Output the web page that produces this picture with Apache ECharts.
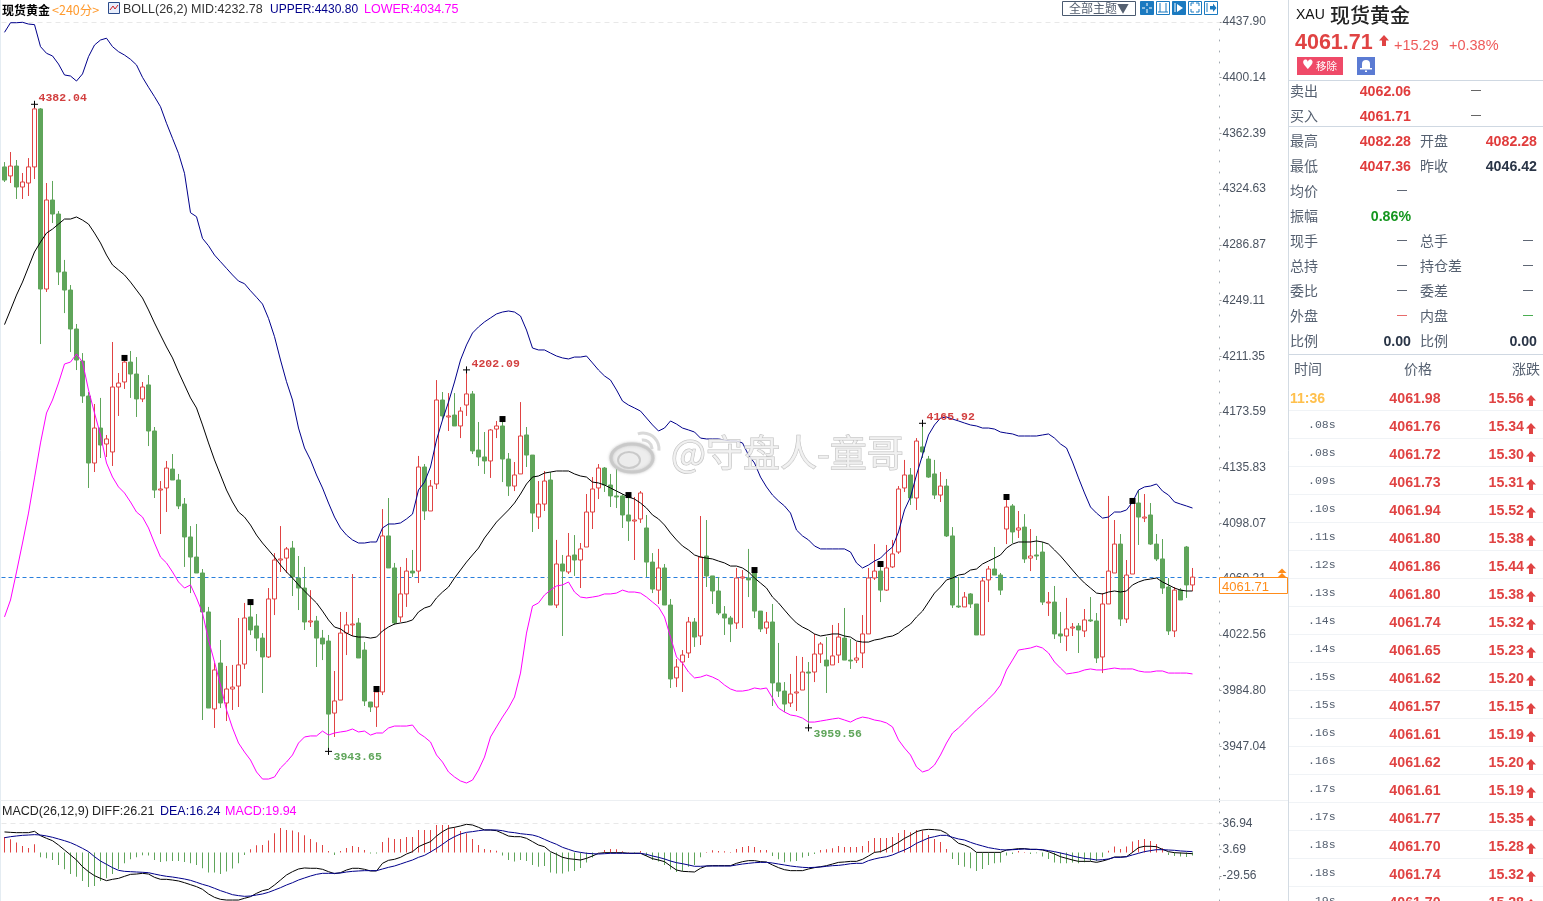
<!DOCTYPE html>
<html><head><meta charset="utf-8">
<style>html,body{margin:0;padding:0;background:#fff;overflow:hidden}#c{width:1543px;height:901px}</style>
<script src="https://cdn.jsdelivr.net/npm/echarts@6/dist/echarts.min.js"></script>
</head><body><div id="c"></div>
<script>
const opens=[4339.6,4333.5,4340.2,4326.0,4328.7,4339.6,4378.9,4256.9,4317.2,4307.7,
4268.4,4256.2,4229.8,4208.1,4184.4,4139.0,4162.7,4151.9,4146.5,4190.5,
4193.9,4207.4,4199.3,4182.4,4191.9,4160.7,4120.7,4122.1,4134.9,4127.5,
4111.2,4088.9,4075.3,4064.5,4038.1,3972.4,4003.5,3976.4,3985.9,3987.9,
4002.8,4034.7,4028.6,4020.4,4007.6,4046.9,4073.3,4074.6,4081.4,4061.1,
4054.3,4031.3,4032.0,4020.4,4018.4,3969.6,3978.4,4023.8,4029.3,4030.6,
4012.3,3977.1,3973.7,3983.9,4089.6,4067.9,4034.7,4050.3,4065.8,4065.8,
4136.3,4106.5,4124.8,4181.7,4170.2,4171.5,4164.1,4178.3,4185.8,4147.8,
4143.1,4140.4,4162.0,4164.1,4141.7,4123.4,4131.6,4158.0,4144.4,4102.4,
4111.2,4127.5,4042.8,4070.6,4065.2,4076.7,4073.3,4082.1,4105.8,4122.1,
4135.6,4124.1,4116.7,4116.7,4103.8,4099.7,4101.1,4095.0,4071.9,4052.9,
4067.9,4042.8,3993.4,4004.2,4010.3,4031.3,4021.8,4076.0,4062.5,4052.3,
4036.7,4034.0,4030.6,4061.1,4061.1,4065.2,4038.7,4027.2,4031.3,3990.0,
3984.5,3976.4,3983.2,3985.2,3997.4,3997.4,4009.6,4005.5,4002.2,4008.9,
4020.4,4005.5,4005.5,4010.3,4023.2,4061.1,4065.8,4052.9,4068.6,4078.7,
4122.1,4130.9,4115.3,4149.9,4141.7,4131.6,4117.3,4123.4,4089.6,4042.1,
4041.5,4050.3,4043.5,4022.5,4059.8,4067.2,4063.1,4094.3,4109.9,4093.6,
4095.6,4074.6,4076.7,4078.7,4044.2,4044.8,4023.2,4021.8,4027.2,4028.6,
4025.2,4032.7,4032.0,4007.6,4043.5,4064.5,4084.1,4033.3,4063.8,4111.9,
4101.7,4103.8,4084.1,4074.0,4055.0,4025.2,4052.9,4082.1,4056.4];
const closes=[4330.7,4340.2,4326.0,4329.4,4339.6,4378.9,4256.9,4317.2,4307.7,4268.4,
4256.2,4229.8,4208.8,4184.4,4139.0,4162.7,4151.2,4155.3,4190.5,4193.2,
4207.4,4199.3,4182.4,4190.5,4160.7,4120.7,4121.4,4135.6,4127.5,4109.9,
4088.9,4075.3,4064.5,4038.1,3973.0,3998.8,3976.4,3985.9,3987.2,4002.2,
4034.0,4025.9,4020.4,4007.6,4046.9,4073.3,4074.0,4080.8,4061.8,4054.3,
4031.3,4032.0,4020.4,4016.4,3968.9,3977.8,4023.8,4029.3,4029.9,4006.9,
3977.8,3973.7,3983.9,4089.6,4067.9,4030.6,4050.3,4065.8,4064.5,4136.3,
4106.5,4123.4,4181.7,4170.9,4170.9,4164.1,4174.2,4185.8,4147.2,4143.1,
4140.4,4161.4,4164.1,4141.7,4123.4,4130.9,4157.3,4144.4,4105.1,4111.2,
4126.8,4042.8,4070.6,4065.8,4076.0,4073.3,4080.8,4105.8,4121.4,4135.6,
4124.1,4116.7,4116.0,4103.8,4099.7,4100.4,4118.7,4071.9,4053.6,4067.9,
4042.8,3992.7,4000.8,4008.9,4031.3,4021.1,4075.3,4062.5,4052.3,4037.4,
4034.0,4029.9,4061.1,4061.8,4059.8,4038.7,4026.6,4031.3,3990.0,3984.5,
3975.7,3982.5,3983.9,3997.4,3996.7,4009.6,4016.4,4001.5,4008.3,4021.1,
4005.5,4004.9,4006.9,4023.2,4061.1,4065.8,4052.9,4067.9,4077.4,4121.4,
4130.9,4115.3,4153.9,4146.5,4129.5,4117.3,4123.4,4089.6,4042.8,4041.5,
4048.2,4043.5,4022.5,4059.1,4067.2,4063.1,4052.9,4109.2,4092.3,4095.0,
4074.0,4076.0,4076.0,4044.8,4044.8,4023.2,4021.8,4026.6,4027.9,4025.9,
4032.7,4032.0,4006.9,4043.5,4065.8,4084.1,4033.3,4063.1,4112.6,4102.4,
4102.4,4084.1,4074.0,4054.3,4025.2,4052.9,4046.2,4056.4,4061.71];
const lows=[4329.4,4328.7,4317.9,4317.9,4319.9,4331.4,4219.6,4254.9,4301.6,4259.6,
4240.6,4214.2,4202.0,4179.7,4122.1,4132.9,4142.4,4143.1,4137.0,4170.9,
4189.2,4183.1,4170.2,4180.3,4150.5,4115.3,4090.9,4105.8,4127.5,4107.8,
4068.6,4050.9,4064.5,3964.9,3973.0,3959.5,3973.0,3964.2,3971.7,3973.7,
3999.5,4022.5,4011.6,3983.2,4006.9,4036.0,4065.2,4064.5,4048.9,4039.4,
4025.9,4027.9,4000.8,4005.5,3943.65,3953.4,3978.4,4008.9,4021.8,4006.9,
3974.4,3970.3,3960.2,3981.8,4067.9,4029.3,4031.3,4041.5,4061.8,4057.7,
4100.4,4106.5,4121.4,4168.2,4160.7,4164.1,4155.9,4170.9,4145.1,4137.0,
4131.6,4128.9,4155.9,4126.1,4116.7,4120.0,4131.6,4136.3,4092.3,4094.3,
4106.5,4042.8,4040.8,4021.8,4063.8,4062.5,4054.3,4082.1,4094.3,4114.6,
4119.4,4109.2,4108.5,4095.0,4086.2,4073.3,4098.4,4061.8,4050.9,4043.5,
4042.8,3986.6,3987.2,3983.9,4006.9,4014.4,4015.7,4055.0,4043.5,4036.0,
4022.5,4017.7,4026.6,4027.2,4048.2,4034.0,4024.5,4023.2,3974.4,3980.5,
3970.3,3973.7,3971.0,3985.2,3959.56,3990.6,4003.5,3983.2,4002.2,4003.5,
4005.5,3999.5,4003.5,4000.1,4023.2,4059.8,4044.8,4052.3,4067.9,4077.4,
4119.4,4110.6,4107.2,4142.4,4128.9,4114.6,4112.6,4088.9,4040.8,4040.8,
4041.5,4040.8,4022.5,4022.5,4044.8,4063.1,4049.6,4084.1,4084.8,4088.2,
4071.3,4065.8,4073.3,4042.8,4035.4,4019.8,4017.1,4011.6,4021.8,4010.3,
4021.1,4031.3,4003.5,3996.7,4043.5,4064.5,4028.6,4030.6,4063.8,4083.5,
4099.0,4083.5,4072.6,4050.3,4022.5,4021.1,4046.2,4047.6,4052.3];
const highs=[4342.9,4349.7,4344.3,4335.5,4345.6,4382.04,4379.5,4328.7,4330.1,4309.7,
4276.6,4259.6,4233.2,4213.5,4187.1,4179.0,4183.1,4158.0,4221.0,4200.0,
4210.2,4214.9,4210.8,4193.9,4198.6,4163.4,4126.8,4140.4,4145.1,4131.6,
4115.3,4096.3,4097.7,4067.2,4041.5,4003.5,4019.1,4001.5,4002.2,4034.0,
4044.2,4044.8,4036.7,4023.8,4054.3,4078.0,4096.3,4082.1,4086.2,4076.0,
4068.6,4052.9,4035.4,4025.9,4022.5,3998.1,4038.1,4038.1,4063.8,4034.0,
4017.7,3977.1,3986.6,4107.8,4115.3,4071.3,4068.6,4074.6,4080.1,4143.8,
4138.3,4127.5,4195.2,4187.1,4186.4,4186.4,4176.9,4202.09,4187.8,4166.8,
4160.0,4162.0,4167.5,4169.5,4145.8,4139.7,4180.3,4163.4,4144.4,4126.8,
4133.6,4132.9,4086.9,4076.7,4091.6,4090.2,4084.8,4118.0,4129.5,4138.3,
4136.3,4131.6,4134.9,4118.0,4116.0,4116.0,4120.0,4103.8,4078.0,4080.8,
4070.6,4046.9,4006.2,4012.3,4034.7,4034.0,4103.1,4100.4,4062.5,4061.8,
4042.1,4035.4,4067.9,4066.5,4080.8,4067.9,4038.7,4038.1,4043.5,4017.1,
3990.6,3996.1,4008.3,4007.6,4004.2,4023.2,4017.7,4021.1,4029.3,4030.6,
4040.8,4019.8,4017.7,4036.0,4067.9,4084.1,4071.3,4083.5,4086.9,4123.4,
4141.1,4135.6,4155.9,4165.92,4143.8,4141.1,4132.9,4128.2,4095.6,4061.8,
4051.6,4050.9,4043.5,4061.1,4069.2,4082.1,4064.5,4116.0,4111.2,4106.5,
4104.4,4094.3,4089.6,4085.5,4051.6,4055.7,4038.1,4047.6,4030.6,4030.6,
4040.1,4048.2,4037.4,4050.9,4116.7,4100.4,4090.9,4073.3,4115.3,4120.7,
4118.0,4111.9,4090.9,4087.5,4061.1,4055.0,4054.3,4082.8,4067.9];
const upper=[4430.8,4437.3,4437.3,4437.6,4436.4,4436.0,4421.1,4416.6,4414.8,4409.3,
4401.9,4401.2,4397.8,4402.6,4414.3,4422.2,4425.6,4426.8,4421.1,4417.7,
4415.4,4412.5,4408.7,4400.3,4393.6,4387.2,4380.4,4369.2,4359.0,4348.8,
4335.3,4308.6,4305.9,4291.2,4286.2,4279.9,4275.4,4270.9,4266.4,4262.3,
4260.5,4255.7,4251.3,4246.7,4237.0,4224.6,4208.8,4194.1,4181.7,4162.7,
4149.2,4141.1,4130.9,4122.1,4111.9,4102.4,4095.0,4090.2,4086.9,4084.8,
4084.8,4085.5,4085.5,4095.0,4097.7,4097.7,4098.4,4101.1,4104.4,4120.7,
4126.1,4136.3,4154.6,4168.2,4180.3,4193.9,4208.8,4219.0,4227.1,4231.2,
4234.6,4237.3,4240.0,4241.3,4242.0,4241.3,4238.6,4229.1,4216.9,4215.6,
4215.6,4213.5,4211.5,4210.2,4209.5,4210.8,4210.8,4211.5,4206.8,4202.0,
4198.0,4195.2,4188.5,4181.0,4178.3,4176.3,4174.2,4169.5,4164.8,4160.7,
4162.7,4167.5,4165.4,4162.7,4161.4,4160.0,4155.9,4155.3,4155.3,4155.3,
4154.6,4153.9,4153.9,4152.6,4144.4,4139.0,4129.5,4122.8,4117.3,4113.3,
4109.9,4105.1,4093.6,4089.6,4086.9,4082.8,4080.8,4080.8,4080.8,4080.8,
4080.8,4078.7,4071.3,4067.9,4069.9,4072.6,4074.6,4078.7,4082.1,4092.3,
4107.2,4116.0,4130.9,4144.4,4158.0,4164.8,4169.5,4170.2,4168.8,4167.5,
4166.1,4164.8,4164.1,4162.7,4162.7,4162.0,4160.0,4159.3,4158.7,4157.3,
4157.3,4157.3,4157.3,4158.0,4158.7,4155.9,4151.9,4149.2,4139.7,4128.9,
4118.7,4109.2,4105.1,4101.7,4102.4,4105.8,4105.8,4107.2,4112.6,4120.7,
4122.8,4123.4,4124.8,4120.0,4117.3,4112.6,4111.2,4109.9,4108.5];
const mid=[4232.78,4242.7,4252.8,4261.6,4271.8,4282.0,4288.7,4294.8,4297.5,4300.9,
4304.3,4304.3,4305.7,4303.6,4300.9,4294.8,4288.1,4279.9,4273.2,4269.8,
4266.4,4261.6,4256.2,4250.8,4242.7,4233.9,4225.7,4217.6,4210.2,4200.7,
4191.9,4183.1,4176.3,4164.8,4152.6,4141.1,4130.9,4120.7,4112.6,4105.8,
4102.4,4097.0,4090.2,4084.8,4080.1,4075.3,4069.9,4065.2,4061.1,4056.4,
4052.3,4048.2,4044.2,4038.7,4032.7,4027.9,4026.6,4023.8,4021.8,4021.1,
4021.1,4020.4,4021.1,4025.2,4027.9,4029.9,4030.6,4031.3,4032.7,4038.1,
4040.8,4042.1,4047.6,4051.6,4055.0,4061.1,4066.5,4071.9,4076.7,4081.4,
4088.2,4093.6,4099.0,4103.1,4107.2,4111.9,4118.0,4124.8,4129.5,4130.2,
4132.2,4132.9,4133.6,4133.6,4133.6,4131.6,4130.2,4129.5,4126.1,4125.5,
4124.1,4122.1,4120.0,4118.0,4116.0,4114.6,4111.9,4108.5,4103.8,4101.1,
4097.0,4091.6,4086.9,4082.8,4080.1,4076.7,4075.3,4074.6,4074.0,4072.6,
4071.3,4069.2,4069.2,4067.9,4065.2,4061.1,4057.7,4054.3,4048.2,4044.2,
4039.4,4034.7,4030.6,4027.9,4025.9,4023.2,4021.8,4022.5,4023.2,4023.2,
4021.8,4021.1,4018.4,4017.7,4017.7,4019.1,4019.8,4021.1,4021.8,4023.8,
4027.2,4029.9,4034.7,4038.7,4044.8,4050.9,4055.0,4059.8,4061.1,4063.1,
4063.8,4066.5,4067.2,4070.6,4072.6,4074.6,4076.7,4081.4,4084.1,4085.5,
4085.5,4085.5,4086.2,4085.5,4084.1,4080.1,4076.0,4071.3,4066.5,4061.8,
4057.7,4054.3,4050.9,4050.3,4051.6,4052.3,4051.6,4052.3,4056.4,4058.4,
4059.8,4060.4,4061.1,4058.4,4056.4,4054.3,4052.9,4052.3,4052.3];
const lower=[4034.75,4046.2,4065.2,4084.8,4105.1,4128.9,4152.6,4172.9,4181.7,4193.2,
4206.1,4207.4,4212.9,4207.4,4188.5,4172.9,4158.0,4139.0,4129.5,4122.8,
4118.7,4112.6,4105.8,4102.4,4095.0,4084.8,4075.3,4071.3,4065.2,4058.4,
4054.3,4056.4,4047.6,4037.4,4019.1,4004.2,3988.6,3971.7,3959.5,3949.3,
3943.2,3937.8,3929.7,3924.9,3924.9,3926.3,3932.4,3936.4,3941.2,3949.3,
3953.4,3954.1,3954.1,3957.4,3954.7,3956.1,3956.8,3957.4,3958.8,3956.8,
3957.4,3954.7,3956.1,3956.1,3959.5,3960.8,3960.8,3960.8,3961.5,3956.1,
3953.4,3950.0,3941.2,3936.4,3929.7,3926.3,3923.6,3922.2,3924.2,3931.0,
3939.8,3953.4,3960.2,3966.9,3973.0,3980.5,3996.7,4023.8,4042.1,4044.2,
4049.6,4052.9,4055.7,4056.4,4058.4,4051.6,4048.2,4047.6,4048.2,4048.9,
4050.3,4050.3,4050.9,4052.9,4051.6,4051.6,4050.9,4048.2,4044.8,4041.5,
4034.7,4021.1,4007.6,4003.5,3997.4,3993.4,3994.0,3995.4,3994.0,3992.0,
3988.6,3985.9,3984.5,3984.5,3985.2,3986.6,3985.9,3986.6,3979.8,3973.0,
3970.3,3968.3,3967.6,3966.2,3963.5,3963.5,3964.2,3964.9,3965.6,3966.2,
3964.9,3963.5,3965.6,3966.9,3966.2,3964.9,3964.2,3962.9,3960.2,3951.4,
3945.9,3941.2,3933.1,3929.7,3931.0,3934.4,3941.2,3949.3,3956.1,3959.5,
3963.5,3967.6,3971.7,3975.1,3979.1,3983.2,3988.6,3998.8,4005.5,4012.3,
4013.0,4013.7,4015.0,4013.7,4010.3,4004.2,4000.1,3996.1,3996.7,3997.4,
3998.8,3999.5,3998.8,3998.8,3999.5,4000.1,3999.5,3999.5,3999.5,3998.1,
3997.4,3997.4,3998.1,3998.1,3996.7,3996.7,3996.7,3996.7,3996.1];
const macdBars=[19.94,16.9,12.7,8.5,5.9,10.6,-5.9,-7.2,-9.3,-15.7,
-21.2,-27.1,-30.5,-36.0,-43.6,-42.3,-36.0,-32.6,-27.0,-21.0,
-13.5,-8.5,-5.9,-3.4,-3.8,-9.3,-11.8,-11.0,-10.6,-10.6,
-11.8,-13.5,-15.7,-19.9,-25.4,-25.4,-27.0,-24.1,-20.3,-13.5,
-3.0,4.2,9.3,9.7,15.2,24.5,31.3,28.8,27.9,25.8,
22.0,17.3,13.1,9.7,2.1,-3.0,2.1,5.9,8.5,7.2,
3.4,-1.3,-1.3,13.5,19.0,17.3,17.3,19.9,19.9,28.8,
28.8,28.8,35.1,35.1,35.1,31.7,27.5,24.5,17.3,9.7,
4.7,3.4,2.5,-3.8,-9.3,-11.4,-9.3,-10.6,-15.7,-17.8,
-16.9,-25.4,-26.6,-26.6,-24.1,-23.3,-19.5,-12.7,-6.3,0.4,
3.4,4.7,4.2,1.7,0.8,-1.3,2.1,-4.2,-9.3,-11.4,
-15.7,-21.6,-24.5,-23.3,-17.8,-15.7,-5.9,0.8,3.0,2.1,
1.7,0.8,4.7,7.2,8.5,7.2,3.4,3.4,-4.2,-8.5,
-12.3,-11.4,-10.6,-6.3,-4.2,-1.7,3.4,4.2,5.5,8.5,
7.2,7.2,7.2,8.5,14.8,18.6,18.6,18.6,19.9,25.0,
28.8,25.8,28.8,27.9,22.4,17.3,13.5,4.7,-8.0,-15.7,
-17.8,-19.9,-23.3,-20.7,-15.7,-13.5,-12.7,-3.8,-1.7,2.1,
0.8,-1.7,-0.8,-5.1,-8.0,-12.7,-13.5,-13.5,-12.7,-13.5,
-12.3,-10.6,-11.0,-5.9,2.5,7.6,4.7,7.6,14.0,16.0,
17.3,14.8,11.0,5.5,-3.0,-4.2,-5.1,-5.5,-3.8];
const diff=[26.21,25.7,25.3,25.3,25.3,27.0,21.5,18.1,15.1,9.6,
3.3,-3.0,-9.4,-17.9,-24.2,-29.3,-32.7,-35.6,-33.9,-32.7,
-30.1,-27.6,-27.2,-26.3,-27.2,-31.4,-33.9,-33.9,-34.8,-36.0,
-38.2,-40.7,-43.2,-46.6,-52.5,-56.8,-59.3,-60.2,-60.2,-60.2,
-58.0,-55.9,-51.7,-48.3,-46.6,-41.1,-34.8,-28.4,-24.2,-20.8,
-19.5,-19.9,-19.9,-21.2,-24.2,-26.7,-25.5,-22.1,-19.9,-19.9,
-21.2,-23.3,-23.3,-13.6,-9.8,-8.5,-6.0,-1.8,1.2,7.5,
10.9,13.9,21.0,26.6,30.8,32.1,33.8,35.9,35.0,32.1,
28.7,28.7,27.8,24.5,21.0,20.2,20.2,18.1,13.9,9.6,
7.5,1.2,-2.2,-6.0,-7.7,-8.5,-9.4,-7.3,-4.3,-0.9,
-0.1,-0.1,-0.1,-0.1,-0.9,-0.9,-0.9,-4.3,-7.7,-9.4,
-11.5,-17.0,-22.1,-23.8,-24.2,-24.6,-19.9,-17.0,-16.6,-16.6,
-16.6,-16.6,-13.6,-11.5,-10.2,-10.2,-11.5,-11.9,-15.7,-19.1,
-21.7,-22.9,-22.9,-22.9,-20.8,-19.1,-17.9,-16.6,-14.5,-12.4,
-11.9,-11.1,-11.1,-8.5,-4.3,0.3,1.2,4.6,8.8,13.0,
18.1,21.9,26.6,28.7,29.5,29.1,28.3,24.5,18.1,11.8,
9.6,6.3,0.3,0.3,0.3,0.3,0.3,3.3,4.1,5.0,
5.0,4.1,4.1,3.3,1.2,-1.8,-5.2,-7.3,-9.4,-11.1,
-11.1,-11.1,-12.4,-10.7,-8.5,-5.6,-5.6,-5.2,0.3,6.3,
8.0,8.0,7.5,4.1,1.2,-0.1,-0.5,-0.9,-1.4];
const dea=[18.9,20.2,21.1,21.9,22.3,22.8,22.3,21.1,19.4,17.3,
15.1,12.6,9.2,5.4,1.2,-5.2,-10.7,-14.9,-19.1,-22.5,
-23.8,-24.2,-24.6,-25.0,-25.5,-27.2,-28.8,-30.1,-31.0,-32.2,
-33.5,-35.2,-37.7,-40.3,-42.4,-45.3,-48.3,-50.8,-53.4,-54.6,
-55.5,-55.1,-53.8,-52.5,-50.4,-47.5,-44.5,-41.1,-38.2,-34.8,
-32.2,-29.7,-27.6,-26.3,-26.3,-26.3,-25.9,-24.6,-23.8,-23.3,
-22.9,-22.9,-22.9,-20.8,-18.7,-17.0,-14.5,-11.9,-9.4,-6.0,
-3.5,0.8,5.4,10.5,16.0,20.2,23.6,25.7,26.6,27.8,
28.7,28.7,28.7,27.8,26.1,25.3,24.0,23.2,22.3,20.2,
16.8,13.5,10.5,6.7,4.1,1.6,0.3,-0.9,-1.4,-1.8,
-1.4,-0.9,-0.9,-0.9,-0.9,-0.9,-0.9,-2.2,-4.3,-6.0,
-8.1,-10.7,-12.8,-14.1,-15.7,-17.4,-17.4,-17.0,-17.0,-17.0,
-17.0,-17.0,-15.7,-14.5,-13.6,-12.8,-12.4,-12.4,-13.2,-14.5,
-15.7,-17.0,-17.9,-18.7,-19.1,-18.7,-18.3,-17.4,-16.6,-16.2,
-15.3,-14.1,-13.6,-13.6,-10.2,-8.1,-6.4,-5.2,-3.0,0.3,
3.3,7.1,11.8,15.1,18.5,20.2,21.9,21.9,19.4,17.3,
16.0,13.0,10.5,8.4,6.3,5.0,3.7,3.3,3.7,4.1,
4.6,4.1,4.1,3.7,2.5,1.2,-0.5,-2.2,-4.3,-6.0,
-7.3,-8.1,-9.4,-9.0,-8.1,-6.0,-6.0,-5.2,-3.0,-0.9,
1.2,2.5,3.7,3.7,3.3,2.9,2.1,1.6,1.2];
const priceTicks=[4437.90,4400.14,4362.39,4324.63,4286.87,4249.11,4211.35,4173.59,4135.83,4098.07,4060.31,4022.56,3984.80,3947.04];
const macdTicks=[36.94,3.69,-29.56];
const lastPrice=4061.71;
const extremes=[[5,4382.04,'#d23f3f',[-5,-6]],[54,3943.65,'#5fa55a',[-4,6]],[77,4202.09,'#d23f3f',[-4,-6]],[134,3959.56,'#5fa55a',[-4,6]],[153,4165.92,'#d23f3f',[-5,-6]]];
const flagIdx=[20,41,62,83,104,125,146,167,188];
const flagVal=[4210.2,4044.8,3985.9,4168.8,4117.3,4066.5,4070.6,4116.0,4113.3];
const legendMain=[['现货黄金',2,'bold 12px "Noto Sans CJK SC"','#000'],['<240分>',52,'12.5px "Noto Sans CJK SC"','#ff9a2e'],['BOLL(26,2) MID:4232.78',123,'12.5px "Liberation Sans"','#333'],['UPPER:4430.80',270,'12px "Liberation Sans"','#00008b'],['LOWER:4034.75',364,'12.5px "Liberation Sans"','#ff00ff']];
const legendMacd=[['MACD(26,12,9)',2,'12.5px "Liberation Sans"','#222'],['DIFF:26.21',92,'12.5px "Liberation Sans"','#222'],['DEA:16.24',160,'12.5px "Liberation Sans"','#00008b'],['MACD:19.94',225,'12.5px "Liberation Sans"','#ff00ff']];
const quoteRows=[['卖出','4062.06','#e03c3c','—',null,'#333'],['买入','4061.71','#e03c3c','—',null,'#333'],['最高','4082.28','#e03c3c','开盘','4082.28','#e03c3c'],['最低','4047.36','#e03c3c','昨收','4046.42','#2a3547'],['均价','—','#2a3547','','',''],['振幅','0.86%','#14961e','','',''],['现手','—','#2a3547','总手','—','#2a3547'],['总持','—','#2a3547','持仓差','—','#2a3547'],['委比','—','#2a3547','委差','—','#2a3547'],['外盘','—','#e03c3c','内盘','—','#14961e'],['比例','0.00','#2a3547','比例','0.00','#2a3547']];
const tickTimes=['11:36','.08s','.08s','.09s','.10s','.11s','.12s','.13s','.14s','.14s','.15s','.15s','.16s','.16s','.17s','.17s','.18s','.18s','.19s'];
const tickPrices=['4061.98','4061.76','4061.72','4061.73','4061.94','4061.80','4061.86','4061.80','4061.74','4061.65','4061.62','4061.57','4061.61','4061.62','4061.61','4061.77','4061.70','4061.74','4061.70'];
const tickChanges=['15.56','15.34','15.30','15.31','15.52','15.38','15.44','15.38','15.32','15.23','15.20','15.15','15.19','15.20','15.19','15.35','15.28','15.32','15.28'];
const RED='#e04343',GRN='#5fa55a',LAB='#556070';
const cats=[];for(let i=0;i<203;i++)cats.push(i);
const kdata=opens.map((o,i)=>[o,closes[i],lows[i],highs[i]]);
const g=[];
function T(text,x,y,font,fill,align,extra){g.push({type:'text',silent:true,z:100,style:Object.assign({text,x,y,font,fill,align:align||'left',verticalAlign:'middle',textAlign:align||'left',textVerticalAlign:'middle'},extra||{})});}
function R(x,y,w,h,fill,stroke,lw){g.push({type:'rect',silent:true,z:99,shape:{x,y,width:w,height:h},style:{fill:fill||'transparent',stroke:stroke||null,lineWidth:lw||1}});}
function L(x1,y1,x2,y2,c,lw){g.push({type:'line',silent:true,z:99,shape:{x1,y1,x2,y2},style:{stroke:c,lineWidth:lw||1}});}
function P(pts,fill){g.push({type:'polygon',silent:true,z:100,shape:{points:pts},style:{fill}});}
function Up(x,y,c){P([[x,y],[x+5,y+5.5],[x+2,y+5.5],[x+2,y+11],[x-2,y+11],[x-2,y+5.5],[x-5,y+5.5]],c);}
// frame
L(0.5,0,0.5,901,'#e4ecf2');L(0,800.5,1288,800.5,'#eceff2');L(1288.5,0,1288.5,901,'#d3dbe3');
// legends
legendMain.forEach(a=>T(a[0],a[1],10,a[2],a[3]));
legendMacd.forEach(a=>T(a[0],a[1],812,a[2],a[3]));
R(108.5,2.5,11,11,'#e8eefc','#2a4a8a');g.push({type:'polyline',silent:true,z:100,shape:{points:[[110,10],[113,6],[115,9],[118,5]]},style:{stroke:'#d02020',fill:null,lineWidth:1}});
// toolbar
R(1062.5,1.5,73,14,'#fff','#4a5a70');T('全部主题▼',1099,8.5,'12px "Noto Sans CJK SC"','#556070','center');
const bx=[1140,1156,1172,1188,1204],bf=[1,0,1,0,0];
bx.forEach((x,i)=>{R(x+.5,1.5,13,13,bf[i]?'#1b7ac0':'#fff','#1b7ac0');const c=bf[i]?'#fff':'#1b7ac0';
 if(i==0){L(x+7,3,x+7,6,c);L(x+7,9,x+7,13,c);L(x+2,8,x+5,8,c);L(x+9,8,x+12,8,c);}
 if(i==1){L(x+4,3,x+4,12,c);L(x+10,3,x+10,12,c);L(x+2,12,x+12,12,c);}
 if(i==2){L(x+3,3,x+3,12,c);P([[x+5,4],[x+11,8],[x+5,12]],c);}
 if(i==3){L(x+3,3,x+6,3,c);L(x+3,3,x+3,6,c);L(x+8,12,x+11,12,c);L(x+11,9,x+11,12,c);L(x+8,3,x+11,3,c);L(x+11,3,x+11,6,c);L(x+3,12,x+6,12,c);L(x+3,9,x+3,12,c);}
 if(i==4){L(x+3,3,x+3,12,c);P([[x+6,6],[x+9,6],[x+9,3.5],[x+12.5,8],[x+9,12],[x+9,9.5],[x+6,9.5]],c);}
});
// last price tag
R(1219.5,577.5,68,16,'#fff','#ff8c1a');T(lastPrice.toFixed(2),1222,587,'13px "Liberation Sans"','#ff8c1a');
P([[1282,568.5],[1286.5,573],[1277.5,573]],'#ff8c1a');P([[1282,573],[1286.5,577.5],[1277.5,577.5]],'#ff8c1a');
// watermark
const wm={shadowBlur:4,shadowColor:'rgba(70,70,70,1)',stroke:'rgba(170,170,170,.9)',lineWidth:1,opacity:.85};
T('@守盘人-童哥',671,453,'37px "Noto Sans CJK SC"','#eeeeee','left',wm);
g.push({type:'ellipse',silent:true,z:100,shape:{cx:632,cy:458,rx:21,ry:14},style:{fill:'rgba(248,248,248,.75)',stroke:'rgba(200,200,200,.85)',lineWidth:3,shadowBlur:3,shadowColor:'#bbb'}});
g.push({type:'ellipse',silent:true,z:100,shape:{cx:629,cy:460,rx:11,ry:8},style:{fill:'rgba(235,235,235,.85)',stroke:'rgba(195,195,195,.85)',lineWidth:2}});
g.push({type:'arc',silent:true,z:100,shape:{cx:643,cy:449,r:16,startAngle:-1.9,endAngle:.1},style:{stroke:'rgba(210,210,210,.85)',lineWidth:3,fill:null}});
g.push({type:'arc',silent:true,z:100,shape:{cx:643,cy:449,r:9,startAngle:-1.7,endAngle:0},style:{stroke:'rgba(210,210,210,.85)',lineWidth:3,fill:null}});
// side header
T('XAU',1296,15,'14px "Liberation Sans"','#111');T('现货黄金',1330,15,'500 20px "Noto Sans CJK SC"','#222');
T('4061.71',1295,43,'bold 21.5px "Liberation Sans"',RED);Up(1384,35,RED);
T('+15.29',1394,46,'14.5px "Liberation Sans"','#ee5a5a');T('+0.38%',1449,46,'14.5px "Liberation Sans"','#ee5a5a');
R(1297,57,46,18,'#ef4a68');T('♥',1302,66,'13px "DejaVu Sans"','#fff');T('移除',1316,66,'10.5px "Noto Sans CJK SC"','#fff');
R(1357,57,18,18,'#5b7bd3');g.push({type:'circle',silent:true,z:100,shape:{cx:1366,cy:64,r:4},style:{fill:'#fff'}});R(1362,64,8,5,'#fff');R(1360,68,12,1.5,'#fff');R(1365,70.5,2,1.5,'#fff');
// quote rows
L(1289,80.5,1543,80.5,'#cfd8e2');L(1289,126.5,1543,126.5,'#cfd8e2');L(1289,354.5,1543,354.5,'#cfd8e2');
const labF='14px "Noto Sans CJK SC"',valF='bold 14.2px "Liberation Sans"';
quoteRows.forEach((r,i)=>{const y=91+25*i;T(r[0],1290,y,labF,LAB);
 T(r[1],r[1]==='—'?1407:1411,y+(r[1]==='—'?-1:1),r[1]==='—'?'10px "Liberation Sans"':valF,r[2],'right');
 if(i<2){T(r[3],1481,y-1,'10px "Liberation Sans"',r[5],'right');}
 else if(r[3]){T(r[3],1420,y,labF,LAB);T(r[4],r[4]==='—'?1533:1537,y+(r[4]==='—'?-1:1),r[4]==='—'?'10px "Liberation Sans"':valF,r[5],'right');}
});
// ticks
T('时间',1294,369,labF,LAB);T('价格',1418,369,labF,LAB,'center');T('涨跌',1540,369,labF,LAB,'right');
tickTimes.forEach((t,i)=>{const y=398+28*i;
 if(i==0)T(t,1290,y+1,'bold 14px "Liberation Sans"','#ffc04d');else T(t,1308,y-1,'11.5px "Liberation Mono"','#556070');
 T(tickPrices[i],1415,y+1,valF,RED,'center');T(tickChanges[i],1524,y+1,valF,RED,'right');Up(1531,y-3,RED);
 L(1289,y+12.5,1543,y+12.5,'#f0f3f6');});

const chart=echarts.init(document.getElementById('c'),null,{renderer:'canvas',width:1543,height:901});
const lineS=(name,data,color,xi,yi)=>({name,type:'line',data,xAxisIndex:xi,yAxisIndex:yi,showSymbol:false,symbol:'none',smooth:false,silent:true,animation:false,z:5,lineStyle:{color,width:1}});
const plain=gi=>({type:'category',gridIndex:gi,data:cats,boundaryGap:true,axisLine:{show:false},axisTick:{show:false},axisLabel:{show:false},splitLine:{show:false}});
const yAx=(gi,min,max,ticks)=>({type:'value',gridIndex:gi,position:'right',min,max,scale:true,
 axisLine:{show:true,lineStyle:{color:'#a0a8b0',type:[1,10],width:1}},
 axisTick:{show:true,length:2,lineStyle:{color:'#999'},customValues:ticks},
 axisLabel:{show:true,color:'#4a5360',fontFamily:'Liberation Sans',fontSize:12,margin:2,padding:[0,0,5,1],customValues:ticks,formatter:v=>v.toFixed(2)},
 splitLine:{show:false}});
chart.setOption({animation:false,backgroundColor:'#fff',
 grid:[{left:1.5,top:20,width:1218,height:780,show:false},{left:1.5,top:801,width:1218,height:100,show:false}],
 xAxis:[plain(0),plain(1)],
 yAxis:[yAx(0,3910.7,4439.15,priceTicks),yAx(1,-61.42,65.48,macdTicks)],
 series:[
  {type:'candlestick',data:kdata,xAxisIndex:0,yAxisIndex:0,barWidth:5,silent:true,z:2,
   itemStyle:{color:'#fff',color0:GRN,borderColor:RED,borderColor0:GRN,borderWidth:1},
   markLine:{silent:true,symbol:'none',animation:false,label:{show:false},z:1,data:[
    {yAxis:lastPrice,lineStyle:{color:'#2a7fdc',type:[4,3],width:1}},
    {yAxis:priceTicks[0],lineStyle:{color:'#e8e8e8',type:[5,4],width:1}}]}},
  lineS('UPPER',upper,'#00008b',0,0),lineS('MID',mid,'#000',0,0),lineS('LOWER',lower,'#ff00ff',0,0),
  {type:'scatter',data:flagIdx.map((x,i)=>[x,flagVal[i]]),xAxisIndex:0,yAxisIndex:0,symbol:'rect',symbolSize:6,silent:true,z:6,itemStyle:{color:'#000',opacity:1}},
  {type:'scatter',data:extremes.map(e=>({value:[e[0],e[1]],label:{color:e[2],offset:[e[3][0],e[3][1]]}})),xAxisIndex:0,yAxisIndex:0,symbol:'path://M0 3.5H7M3.5 0V7',symbolSize:7,silent:true,z:7,
   itemStyle:{color:'transparent',borderColor:'#000',borderWidth:1,opacity:1},
   label:{show:true,position:'right',fontFamily:'Liberation Mono',fontWeight:'bold',fontSize:11.5,formatter:p=>p.value[1].toFixed(2)}},
  {type:'bar',data:macdBars,xAxisIndex:1,yAxisIndex:1,barWidth:1,silent:true,z:2,itemStyle:{color:p=>p.value>=0?RED:GRN}},
  lineS('DIFF',diff,'#000',1,1),lineS('DEA',dea,'#00008b',1,1),
  {type:'line',data:[],xAxisIndex:1,yAxisIndex:1,silent:true,markLine:{silent:true,symbol:'none',animation:false,label:{show:false},data:[{yAxis:macdTicks[0],lineStyle:{color:'#e8e8e8',type:[5,4],width:1}}]}}
 ],
 graphic:g});
</script></body></html>
